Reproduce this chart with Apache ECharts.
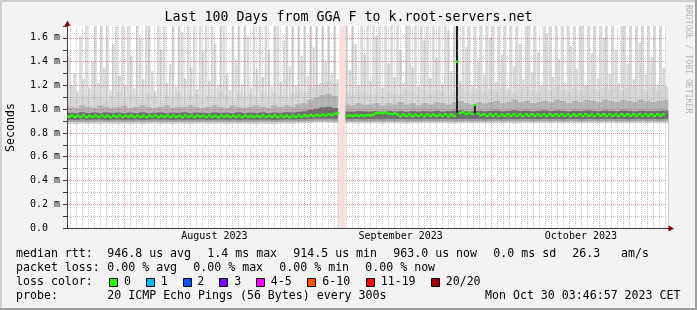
<!DOCTYPE html>
<html><head><meta charset="utf-8">
<script src="https://cdn.jsdelivr.net/npm/echarts@6/dist/echarts.min.js"></script>
<style>html,body{margin:0;padding:0;background:#f3f3f3}#c{width:697px;height:310px}</style>
</head><body><div id="c"></div>
<script>
// ---------- DATA (time in days relative to 2023-08-01 00:00) ----------
const HALF_START = -9.5, HALF_STEP = 0.5;   // half-day samples
const DAY_START = -9, DAY_STEP = 1;         // daily samples

// median RTT (ms), half-day
const median = [
 0.936,0.946,0.934,0.945,0.935,0.947,0.933,0.945,0.936,0.946,
 0.934,0.947,0.935,0.945,0.933,0.946,0.935,0.947,0.934,0.945,
 0.936,0.946,0.934,0.947,0.935,0.945,0.933,0.946,0.935,0.947,
 0.934,0.945,0.936,0.946,0.934,0.947,0.935,0.945,0.933,0.946,
 0.935,0.947,0.934,0.945,0.936,0.946,0.934,0.947,0.935,0.945,
 0.933,0.946,0.935,0.947,0.934,0.945,0.936,0.946,0.934,0.947,
 0.935,0.945,0.933,0.946,0.935,0.947,0.934,0.945,0.936,0.946,
 0.934,0.947,0.935,0.945,0.933,0.946,0.935,0.947,0.936,0.948,
 0.940,0.950,0.942,0.952,0.944,0.955,0.946,0.957,0.950,0.962,
 0.965,null,null,0.943,0.948,0.942,0.949,0.944,0.950,0.945,
 0.951,0.948,0.955,0.968,0.972,0.966,0.975,0.962,0.958,0.965,
 0.955,0.942,0.955,0.943,0.956,0.941,0.954,0.943,0.955,0.942,
 0.956,0.944,0.955,0.942,0.954,0.943,0.956,0.941,0.955,0.944,
 1.400,0.965,0.975,0.958,0.972,0.960,1.035,0.962,0.950,0.958,
 0.944,0.957,0.945,0.958,0.943,0.956,0.945,0.957,0.944,0.958,
 0.945,0.956,0.943,0.957,0.945,0.958,0.944,0.956,0.945,0.957,
 0.943,0.958,0.945,0.956,0.944,0.957,0.945,0.958,0.943,0.956,
 0.945,0.957,0.944,0.958,0.945,0.956,0.943,0.957,0.945,0.958,
 0.944,0.956,0.945,0.957,0.943,0.958,0.945,0.956,0.944,0.957,
 0.945,0.958,0.943,0.956,0.945,0.957,0.944,0.958,0.945,0.956];

// slowest ping (ms), half-day
const maxPing = [
 1.45,1.20,1.30,1.15,1.62,1.25,1.70,1.18,1.40,1.70,
 1.22,1.70,1.35,1.70,1.16,1.55,1.70,1.28,1.70,1.20,
 1.70,1.45,1.18,1.70,1.60,1.25,1.70,1.70,1.32,1.15,
 1.70,1.50,1.70,1.22,1.38,1.70,1.19,1.70,1.65,1.26,
 1.70,1.35,1.70,1.17,1.70,1.48,1.70,1.24,1.70,1.55,
 1.20,1.70,1.70,1.30,1.16,1.70,1.42,1.70,1.21,1.70,
 1.62,1.18,1.70,1.34,1.70,1.27,1.70,1.50,1.19,1.70,
 1.70,1.23,1.58,1.70,1.36,1.70,1.20,1.70,1.45,1.70,
 1.28,1.70,1.52,1.70,1.21,1.70,1.40,1.70,1.30,1.70,
 1.25,null,null,1.70,1.33,1.70,1.55,1.20,1.70,1.46,
 1.70,1.24,1.70,1.62,1.70,1.18,1.70,1.38,1.70,1.27,
 1.70,1.50,1.22,1.70,1.70,1.35,1.70,1.19,1.70,1.58,
 1.70,1.26,1.70,1.44,1.70,1.21,1.70,1.66,1.32,1.70,
 1.70,1.24,1.70,1.52,1.70,1.20,1.70,1.40,1.70,1.29,
 1.70,1.60,1.70,1.23,1.70,1.46,1.70,1.18,1.70,1.36,
 1.70,1.55,1.25,1.70,1.70,1.31,1.70,1.48,1.20,1.70,
 1.64,1.70,1.27,1.70,1.42,1.70,1.22,1.70,1.53,1.70,
 1.34,1.70,1.70,1.19,1.70,1.47,1.70,1.26,1.70,1.60,
 1.70,1.30,1.70,1.50,1.22,1.70,1.70,1.38,1.70,1.25,
 1.70,1.56,1.70,1.29,1.70,1.44,1.70,1.21,1.70,1.35];

// smoke envelopes (ms), daily
const smokeLight = [
 1.10,1.08,1.12,1.09,1.13,1.10,1.08,1.11,1.14,1.09,
 1.12,1.10,1.09,1.13,1.11,1.08,1.12,1.10,1.14,1.09,
 1.11,1.13,1.09,1.12,1.10,1.15,1.11,1.09,1.13,1.10,
 1.12,1.10,1.13,1.11,1.14,1.12,1.10,1.13,1.15,1.14,
 1.18,1.20,1.22,1.24,1.22,null,1.14,1.12,1.15,1.13,
 1.12,1.14,1.11,1.15,1.13,1.12,1.16,1.14,1.12,1.15,
 1.13,1.16,1.14,1.12,1.15,1.18,1.14,1.13,1.16,1.15,
 1.17,1.15,1.18,1.16,1.14,1.17,1.19,1.16,1.15,1.18,
 1.16,1.19,1.17,1.15,1.18,1.16,1.20,1.17,1.15,1.18,
 1.17,1.19,1.16,1.18,1.20,1.17,1.15,1.18,1.16,1.19];
const smokeMid = [
 1.02,1.01,1.03,1.02,1.01,1.03,1.02,1.01,1.02,1.03,
 1.01,1.02,1.03,1.02,1.01,1.02,1.03,1.01,1.02,1.02,
 1.03,1.02,1.01,1.02,1.03,1.02,1.01,1.03,1.02,1.01,
 1.02,1.03,1.02,1.01,1.03,1.02,1.03,1.02,1.04,1.05,
 1.08,1.10,1.12,1.13,1.11,null,1.04,1.03,1.05,1.04,
 1.04,1.05,1.03,1.05,1.04,1.06,1.04,1.05,1.03,1.05,
 1.04,1.06,1.05,1.04,1.06,1.07,1.05,1.04,1.06,1.05,
 1.06,1.07,1.05,1.06,1.08,1.06,1.07,1.05,1.06,1.07,
 1.06,1.08,1.07,1.05,1.07,1.06,1.08,1.07,1.06,1.08,
 1.07,1.06,1.08,1.07,1.06,1.08,1.07,1.06,1.07,1.08];
const smokeDark = [
 0.970,0.966,0.974,0.968,0.972,0.967,0.973,0.969,0.971,0.966,
 0.972,0.968,0.974,0.967,0.970,0.973,0.966,0.971,0.969,0.974,
 0.967,0.972,0.970,0.966,0.973,0.969,0.971,0.968,0.974,0.967,
 0.971,0.969,0.973,0.967,0.972,0.970,0.975,0.972,0.978,0.982,
 0.995,1.005,1.015,1.020,1.010,null,0.980,0.978,0.985,0.982,
 0.980,0.984,0.979,0.986,0.981,0.983,0.978,0.985,0.980,0.984,
 0.982,0.986,0.980,0.984,0.987,0.990,0.984,0.982,0.986,0.983,
 0.985,0.988,0.983,0.986,0.990,0.985,0.987,0.983,0.986,0.989,
 0.984,0.988,0.986,0.983,0.987,0.985,0.989,0.986,0.984,0.988,
 0.986,0.984,0.988,0.986,0.983,0.987,0.985,0.984,0.986,0.988];
const smokeLowMid = [
 0.912,0.910,0.913,0.911,0.912,0.914,0.910,0.912,0.913,0.911,
 0.912,0.913,0.910,0.912,0.914,0.911,0.912,0.910,0.913,0.912,
 0.911,0.912,0.914,0.910,0.912,0.913,0.911,0.912,0.910,0.913,
 0.912,0.911,0.913,0.912,0.910,0.912,0.914,0.913,0.915,0.916,
 0.918,0.920,0.921,0.920,0.919,null,0.916,0.917,0.918,0.916,
 0.917,0.918,0.916,0.919,0.917,0.918,0.916,0.918,0.917,0.919,
 0.918,0.917,0.919,0.918,0.916,0.918,0.919,0.917,0.918,0.916,
 0.918,0.919,0.917,0.918,0.916,0.918,0.919,0.917,0.918,0.919,
 0.917,0.918,0.916,0.919,0.918,0.917,0.918,0.919,0.917,0.918,
 0.919,0.917,0.918,0.916,0.918,0.919,0.917,0.918,0.916,0.918];
const smokeLowLight = [
 0.895,0.893,0.896,0.894,0.895,0.897,0.893,0.895,0.896,0.894,
 0.895,0.896,0.893,0.895,0.897,0.894,0.895,0.893,0.896,0.895,
 0.894,0.895,0.897,0.893,0.895,0.896,0.894,0.895,0.893,0.896,
 0.895,0.894,0.896,0.895,0.893,0.895,0.897,0.896,0.898,0.899,
 0.900,0.902,0.903,0.902,0.901,null,0.898,0.899,0.900,0.898,
 0.899,0.900,0.898,0.901,0.899,0.900,0.898,0.900,0.899,0.901,
 0.900,0.899,0.901,0.900,0.898,0.900,0.901,0.899,0.900,0.898,
 0.900,0.901,0.899,0.900,0.898,0.900,0.901,0.899,0.900,0.901,
 0.899,0.900,0.898,0.901,0.900,0.899,0.900,0.901,0.899,0.900,
 0.901,0.899,0.900,0.898,0.900,0.901,0.899,0.900,0.898,0.900];
const minPing = [
 0.876,0.872,0.878,0.874,0.877,0.873,0.879,0.875,0.872,0.877,
 0.874,0.878,0.873,0.876,0.879,0.874,0.877,0.872,0.878,0.875,
 0.873,0.877,0.879,0.874,0.876,0.878,0.873,0.877,0.875,0.879,
 0.876,0.873,0.878,0.875,0.872,0.877,0.879,0.876,0.880,0.882,
 0.884,0.886,0.887,0.885,0.884,null,0.880,0.882,0.879,0.881,
 0.880,0.883,0.879,0.882,0.880,0.881,0.878,0.882,0.880,0.883,
 0.881,0.879,0.882,0.880,0.878,0.881,0.883,0.880,0.882,0.879,
 0.881,0.883,0.880,0.882,0.878,0.881,0.883,0.880,0.881,0.882,
 0.880,0.882,0.879,0.883,0.881,0.880,0.882,0.883,0.880,0.881,
 0.883,0.880,0.882,0.879,0.881,0.883,0.880,0.882,0.879,0.881];

// isolated high-latency columns
const spikeDays = [55.5, 58.5];
const spikeLo = [0.97, 0.97];
const spikeHi = [1.70, 1.04];

// period without data
const gapDays = [35.8, 36.8];

// axes
const monthStarts = [0, 31, 61];
const monthLabelDays = [15, 46, 76];
const monthLabels = ['August 2023', 'September 2023', 'October 2023'];
const yTicks = [0, 0.2, 0.4, 0.6, 0.8, 1.0, 1.2, 1.4, 1.6];

// texts
const titleText = 'Last 100 Days from GGA F to k.root-servers.net';
const yTitle = 'Seconds';
const rrdCredit = 'RRDTOOL / TOBI OETIKER';
const medianStats = ['median rtt:', '946.8 us avg', '1.4 ms max', '914.5 us min', '963.0 us now', '0.0 ms sd', '26.3', 'am/s'];
const lossStats = ['packet loss:', '0.00 % avg', '0.00 % max', '0.00 % min', '0.00 % now'];
const lossTitle = 'loss color:';
const lossLabels = ['0', '1', '2', '3', '4-5', '6-10', '11-19', '20/20'];
const lossColors = ['#26ff00', '#00b8ff', '#0059ff', '#7e00ff', '#ff00ff', '#ff5500', '#ff0000', '#a00000'];
const probeText = ['probe:', '20 ICMP Echo Pings (56 Bytes) every 300s', 'Mon Oct 30 03:46:57 2023 CET'];

// ---------- CHART ----------
const FONT = '"DejaVu Sans Mono", monospace';
const X_MIN = -9.53, X_MAX = 90.16, Y_MAX = 1.7;
const DAY_MS = 86400000, BASE_MS = Date.UTC(2023, 7, 1);
const ms = d => BASE_MS + d * DAY_MS;           // day offset -> time value
const halfT = i => HALF_START + i * HALF_STEP;
const dayT = i => DAY_START + i * DAY_STEP;
const pairsH = a => a.map((v, i) => [ms(halfT(i)), v]);
const pairsD = a => a.map((v, i) => [dayT(i), v]);

function layer(name, arr, color, daily, width) {
  return { name, type: 'bar', xAxisIndex: daily ? 0 : 1, yAxisIndex: 0,
    data: daily ? pairsD(arr) : pairsH(arr), barWidth: width || (daily ? 6.4 : 2.7), barGap: '-100%',
    itemStyle: { color }, silent: true, animation: false, z: 2 };
}

const gridColor = 'rgba(143,143,143,0.5)';
const mgridColor = 'rgba(224,80,80,0.6)';
const lineData = [];
for (let d = Math.ceil(X_MIN); d <= Math.floor(X_MAX); d++) {
  const major = monthStarts.includes(d);
  lineData.push({ xAxis: d, lineStyle: { color: major ? mgridColor : gridColor, type: [1, 1], width: 1 } });
}
yTicks.forEach(v => {
  if (v > 0) lineData.push({ yAxis: v, lineStyle: { color: mgridColor, type: [1, 1], width: 1 } });
  if (v + 0.1 < 1.65) lineData.push({ yAxis: +(v + 0.1).toFixed(1), lineStyle: { color: gridColor, type: [1, 1], width: 1 } });
});

const series = [
  layer('max', maxPing, '#d9d9d9', false),
  layer('light', smokeLight, '#d6d6d6', true),
  layer('mid', smokeMid, '#b4b4b4', true),
  layer('dark', smokeDark, '#6c6c6c', true),
  { name: 'spikeBase', type: 'bar', xAxisIndex: 1, stack: 'spk', barWidth: 2, barGap: '-100%', silent: true, animation: false,
    data: spikeDays.map((d, k) => [ms(d), spikeLo[k]]), itemStyle: { color: 'rgba(0,0,0,0)' }, z: 2 },
  { name: 'spike', type: 'bar', xAxisIndex: 1, stack: 'spk', barWidth: 2, barGap: '-100%', silent: true, animation: false,
    data: spikeDays.map((d, k) => [ms(d), +(spikeHi[k] - spikeLo[k]).toFixed(3)]), itemStyle: { color: '#1e1e1e' }, z: 2 },
  layer('lowmid', smokeLowMid, '#a2a2a2', true),
  layer('lowlight', smokeLowLight, '#d2d2d2', true),
  layer('min', minPing, '#ffffff', true),
  { name: 'medBase', type: 'bar', xAxisIndex: 2, stack: 'med', barWidth: 3.2, silent: true, animation: false,
    data: median.map((v, i) => [ms(halfT(i)), v == null ? null : +(v - 0.01).toFixed(4)]), itemStyle: { color: 'rgba(0,0,0,0)' }, z: 8 },
  { name: 'median', type: 'bar', xAxisIndex: 2, stack: 'med', barWidth: 3.2, silent: true, animation: false,
    data: median.map((v, i) => [ms(halfT(i)), v == null ? null : 0.02]), itemStyle: { color: '#26ff00' }, z: 8 },
  { name: 'grid', type: 'line', xAxisIndex: 0, yAxisIndex: 0, data: [], silent: true, animation: false,
    markLine: { silent: true, symbol: ['none', 'none'], label: { show: false }, animation: false, z: 5, data: lineData },
    markArea: { silent: true, animation: false, z: 6, itemStyle: { color: '#ffdcdc' },
      data: [[{ xAxis: gapDays[0] }, { xAxis: gapDays[1] }]] } }
];

const txt = (text, x, y, extra) => Object.assign({ type: 'text', x, y, z: 10, silent: true,
  style: Object.assign({ text, fontFamily: FONT, fontSize: 11.6, fill: '#000', verticalAlign: 'middle', align: 'left' }, extra || {}) });

const graphic = [
  { type: 'rect', shape: { x: 0, y: 0, width: 697, height: 2 }, style: { fill: '#cfcfcf' }, z: 10, silent: true },
  { type: 'rect', shape: { x: 0, y: 0, width: 2, height: 310 }, style: { fill: '#cfcfcf' }, z: 10, silent: true },
  { type: 'rect', shape: { x: 0, y: 308, width: 697, height: 2 }, style: { fill: '#9e9e9e' }, z: 10, silent: true },
  { type: 'rect', shape: { x: 695, y: 0, width: 2, height: 310 }, style: { fill: '#9e9e9e' }, z: 10, silent: true },
  { type: 'line', shape: { x1: 67.5, y1: 22, x2: 67.5, y2: 26 }, style: { stroke: '#404040', lineWidth: 1 }, z: 10, silent: true },
  { type: 'polygon', shape: { points: [[67.5, 20.5], [64.5, 26], [70.5, 26]] }, style: { fill: '#8b0000' }, z: 10, silent: true },
  { type: 'line', shape: { x1: 666, y1: 228.5, x2: 669, y2: 228.5 }, style: { stroke: '#404040', lineWidth: 1 }, z: 10, silent: true },
  { type: 'polygon', shape: { points: [[674, 228.5], [668.5, 225.5], [668.5, 231.5]] }, style: { fill: '#8b0000' }, z: 10, silent: true },
  txt(yTitle, 10.5, 127.5, { align: 'center' }),
  txt(rrdCredit, 688, 5, { fontSize: 8.2, fill: '#b4b4b4' })
];
graphic[8].rotation = Math.PI / 2;
graphic[9].rotation = -Math.PI / 2;

const row1X = [16, 107.3, 207.3, 293.3, 393.3, 493.3, 572.3, 621];
medianStats.forEach((s, k) => graphic.push(txt(s, row1X[k], 254.3)));
const row2X = [16, 107.3, 193.3, 279.3, 365.3];
lossStats.forEach((s, k) => graphic.push(txt(s, row2X[k], 268.3)));
graphic.push(txt(lossTitle, 16, 282));
const boxX = [108.7, 145.7, 182.7, 219.3, 256, 307.3, 365.7, 430.7];
const labX = [124, 160.7, 197.3, 234.3, 270.7, 322.3, 380.7, 445.7];
lossLabels.forEach((s, k) => {
  graphic.push({ type: 'rect', z: 10, silent: true, shape: { x: Math.round(boxX[k]) + 0.5, y: 278.5, width: 8, height: 8 },
    style: { fill: lossColors[k], stroke: '#000', lineWidth: 1 } });
  graphic.push(txt(s, labX[k], 282));
});
const row4X = [16, 107.3, 485];
probeText.forEach((s, k) => graphic.push(txt(s, row4X[k], 296.3)));

const timeAxis = { type: 'time', min: ms(X_MIN), max: ms(X_MAX), show: false };
const chart = echarts.init(document.getElementById('c'), null, { renderer: 'canvas' });
chart.setOption({
  animation: false,
  backgroundColor: '#f3f3f3',
  title: { text: titleText, left: 'center', top: 11, padding: 0,
    textStyle: { fontFamily: FONT, fontSize: 13.3, fontWeight: 'normal', color: '#000' } },
  grid: { left: 67, right: 31, top: 26, bottom: 82, show: true, backgroundColor: '#ffffff', borderWidth: 0 },
  xAxis: [
    { type: 'value', min: X_MIN, max: X_MAX, z: 6,
      axisLine: { show: true, onZero: false, lineStyle: { color: '#404040', width: 1 } },
      axisTick: { show: false }, splitLine: { show: false },
      axisLabel: { customValues: monthLabelDays, formatter: v => { const k = monthLabelDays.indexOf(v); return k < 0 ? '' : monthLabels[k]; },
        fontFamily: FONT, fontSize: 10, color: '#000', margin: 3 } },
    Object.assign({}, timeAxis),
    Object.assign({}, timeAxis)
  ],
  yAxis: { type: 'value', min: 0, max: Y_MAX, interval: 0.1, z: 6,
    axisLine: { show: true, onZero: false, lineStyle: { color: '#404040', width: 1 } },
    axisTick: { show: true, length: 4, lineStyle: { color: '#404040' } },
    splitLine: { show: false },
    axisLabel: { align: 'left', margin: 37, fontFamily: FONT, fontSize: 10, color: '#000',
      formatter: v => { const k = Math.round(v * 10); if (k % 2) return ''; const t = yTicks.find(y => Math.abs(y - v) < 1e-6); if (t === undefined) return ''; return t === 0 ? '0.0' : t.toFixed(1) + ' m'; } } },
  series,
  graphic
});
</script></body></html>
